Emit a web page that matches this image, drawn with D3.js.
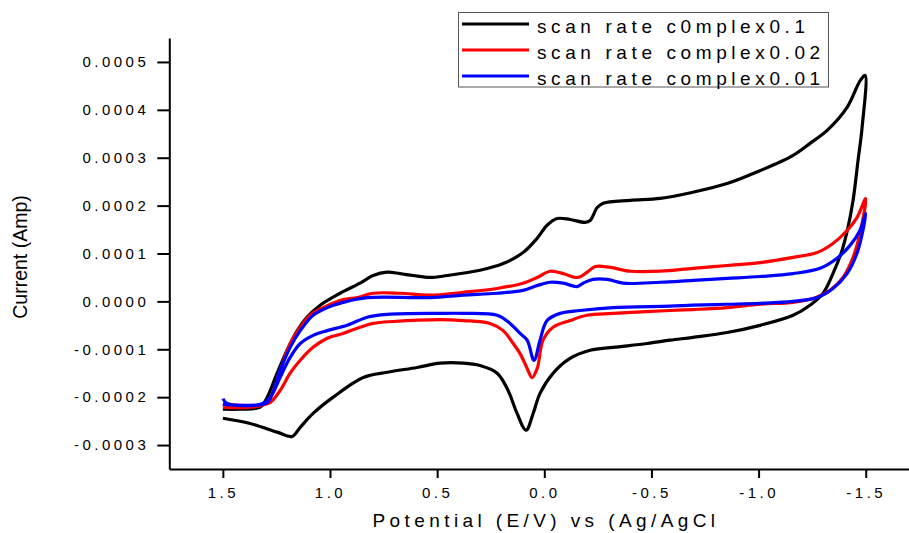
<!DOCTYPE html>
<html>
<head>
<meta charset="utf-8">
<script src="https://cdn.jsdelivr.net/npm/d3@7"></script>
<style>
  body { margin: 0; background: #fff; }
  svg { display: block; font-family: "Liberation Sans", Arial, sans-serif; }
</style>
</head>
<body>
<div id="chart"></div>
<script>
var width = 909;
var height = 533;

// currents are in units of 1e-4 A
var unit = 1e-4;

// scan rate 0.1 (black): forward branch then return branch
var potential01 = [1.50, 1.373, 1.247, 1.177, 1.139, 1.079, 0.985, 0.845, 0.733, 0.593, 0.486, 0.378, 0.300, 0.220, 0.169, 0.127, 0.085, 0.052, 0.020, -0.041, -0.120, -0.214, -0.321, -0.480, -0.587, -0.694, -0.853, -1.007, -1.161, -1.240, -1.301, -1.347, -1.389, -1.417, -1.441, -1.464, -1.483, -1.497,
  -1.474, -1.413, -1.320, -1.240, -1.161, -1.007, -0.853, -0.694, -0.541, -0.401, -0.275, -0.247, -0.214, -0.190, -0.120, -0.060, -0.013, 0.033, 0.099, 0.192, 0.300, 0.453, 0.533, 0.612, 0.673, 0.733, 0.799, 0.860, 0.953, 1.046, 1.107, 1.153, 1.200, 1.247, 1.293, 1.326, 1.419, 1.50];
var current01 = [-2.44, -2.55, -2.73, -2.82, -2.63, -2.34, -2.00, -1.59, -1.48, -1.38, -1.29, -1.29, -1.34, -1.50, -1.86, -2.34, -2.69, -2.34, -1.92, -1.50, -1.19, -1.02, -0.96, -0.88, -0.81, -0.75, -0.65, -0.50, -0.29, -0.08, 0.17, 0.58, 1.06, 1.54, 2.11, 2.94, 3.63, 4.72,
  4.61, 4.05, 3.57, 3.30, 3.05, 2.73, 2.46, 2.28, 2.15, 2.11, 2.05, 1.96, 1.69, 1.65, 1.71, 1.73, 1.59, 1.32, 1.02, 0.79, 0.65, 0.54, 0.50, 0.54, 0.58, 0.61, 0.54, 0.38, 0.17, -0.08, -0.33, -0.61, -1.02, -1.50, -2.00, -2.21, -2.25, -2.25];

// scan rate 0.02 (red)
var potential002 = [1.50, 1.326, 1.279, 1.233, 1.186, 1.139, 1.079, 1.013, 0.939, 0.860, 0.799, 0.706, 0.486, 0.378, 0.253, 0.192, 0.145, 0.113, 0.080, 0.057, 0.033, 0.006, -0.041, -0.120, -0.199, -0.321, -0.587, -0.694, -0.853, -1.007, -1.161, -1.254, -1.333, -1.394, -1.441, -1.473, -1.50,
  -1.459, -1.413, -1.347, -1.273, -1.161, -1.007, -0.853, -0.694, -0.541, -0.401, -0.308, -0.238, -0.200, -0.158, -0.088, -0.027, 0.033, 0.099, 0.220, 0.379, 0.533, 0.673, 0.799, 0.873, 0.953, 1.032, 1.093, 1.139, 1.186, 1.233, 1.293, 1.373, 1.50];
var current002 = [-2.15, -2.17, -2.11, -1.86, -1.50, -1.23, -0.96, -0.77, -0.67, -0.54, -0.46, -0.42, -0.38, -0.40, -0.46, -0.61, -0.88, -1.09, -1.40, -1.59, -1.40, -0.81, -0.54, -0.40, -0.29, -0.25, -0.19, -0.17, -0.13, -0.06, -0.02, 0.06, 0.23, 0.50, 0.92, 1.42, 2.15,
  1.75, 1.48, 1.21, 1.02, 0.92, 0.81, 0.75, 0.69, 0.63, 0.63, 0.71, 0.73, 0.61, 0.50, 0.58, 0.63, 0.50, 0.38, 0.27, 0.19, 0.13, 0.17, 0.17, 0.08, 0.02, -0.13, -0.29, -0.54, -0.88, -1.44, -2.11, -2.21, -2.21];

// scan rate 0.01 (blue)
var potential001 = [1.50, 1.48, 1.326, 1.279, 1.233, 1.186, 1.139, 1.079, 1.013, 0.920, 0.827, 0.733, 0.486, 0.378, 0.220, 0.160, 0.113, 0.080, 0.048, 0.020, -0.013, -0.074, -0.167, -0.321, -0.587, -0.694, -0.853, -1.007, -1.161, -1.273, -1.347, -1.413, -1.459, -1.487, -1.50,
  -1.473, -1.427, -1.366, -1.287, -1.161, -1.007, -0.853, -0.694, -0.541, -0.368, -0.293, -0.228, -0.181, -0.153, -0.088, -0.027, 0.033, 0.099, 0.220, 0.379, 0.533, 0.827, 0.939, 1.013, 1.079, 1.139, 1.186, 1.233, 1.293, 1.373, 1.50];
var current001 = [-2.03, -2.13, -2.15, -2.00, -1.59, -1.17, -0.88, -0.71, -0.61, -0.50, -0.33, -0.27, -0.25, -0.25, -0.29, -0.46, -0.67, -0.81, -1.23, -0.81, -0.40, -0.25, -0.19, -0.13, -0.10, -0.08, -0.06, -0.04, 0.00, 0.08, 0.27, 0.58, 1.00, 1.48, 1.84,
  1.48, 1.17, 0.90, 0.69, 0.58, 0.52, 0.48, 0.44, 0.40, 0.38, 0.46, 0.46, 0.38, 0.31, 0.38, 0.40, 0.33, 0.23, 0.17, 0.13, 0.08, 0.08, -0.02, -0.13, -0.29, -0.61, -0.96, -1.44, -2.11, -2.17, -2.15];

var seriesNames = ["scan rate c0mplex0.1", "scan rate complex0.02", "scan rate complex0.01"];
var seriesColors = ["#000000", "#ff0000", "#0000ff"];

var xTicks = [1.5, 1.0, 0.5, 0.0, -0.5, -1.0, -1.5];
var xMinorTicks = [1.75, 1.25, 0.75, 0.25, -0.25, -0.75, -1.25, -1.75];
var yTicks = [-0.0003, -0.0002, -0.0001, 0.0, 0.0001, 0.0002, 0.0003, 0.0004, 0.0005];
var yMinorTicks = [-0.00035, -0.00025, -0.00015, -0.00005, 0.00005, 0.00015, 0.00025, 0.00035, 0.00045, 0.00055];

var x = d3.scaleLinear().domain([1.75, -1.75]).range([169.3, 919.3]);
var y = d3.scaleLinear().domain([-0.00035, 0.00055]).range([469, 38]);

var svg = d3.select("#chart").append("svg")
    .attr("width", width)
    .attr("height", height);

function zip(vs, is) {
  return vs.map(function(v, k) { return [v, is[k] * unit]; });
}
var series = [zip(potential01, current01), zip(potential002, current002), zip(potential001, current001)];

var line = d3.line()
    .x(function(d) { return x(d[0]); })
    .y(function(d) { return y(d[1]); })
    .curve(d3.curveCatmullRom.alpha(0.5));

svg.selectAll("path.cv")
    .data(series)
  .enter().append("path")
    .attr("class", "cv")
    .attr("d", line)
    .attr("fill", "none")
    .attr("stroke", function(d, k) { return seriesColors[k]; })
    .attr("stroke-width", 3.2)
    .attr("stroke-linejoin", "round");

// x axis
var xAxis = svg.append("g").attr("transform", "translate(0," + y.range()[0] + ")");
xAxis.call(d3.axisBottom(x).tickValues(xMinorTicks).tickSize(5).tickFormat(""));
xAxis.call(d3.axisBottom(x).tickValues(xTicks).tickSize(9).tickSizeOuter(0)
    .tickFormat(function(d) { return d.toFixed(1); }));
xAxis.selectAll("path, line").attr("stroke", "#000").attr("stroke-width", 2);
xAxis.selectAll("text")
    .attr("y", 18)
    .attr("dy", "0.71em")
    .attr("fill", "#000")
    .style("font-size", "15px")
    .style("letter-spacing", "3.5px")
    .style("font-family", "'Liberation Sans', Arial, sans-serif");

// y axis
var yAxis = svg.append("g").attr("transform", "translate(" + x.range()[0] + ",0)");
yAxis.call(d3.axisLeft(y).tickValues(yMinorTicks).tickSize(6).tickFormat(""));
yAxis.call(d3.axisLeft(y).tickValues(yTicks).tickSize(12).tickSizeOuter(0)
    .tickFormat(function(d) { return d.toFixed(4); }));
yAxis.selectAll("path, line").attr("stroke", "#000").attr("stroke-width", 2);
yAxis.selectAll("text")
    .attr("x", -20)
    .attr("fill", "#000")
    .style("font-size", "15px")
    .style("letter-spacing", "3.5px")
    .style("font-family", "'Liberation Sans', Arial, sans-serif");

// axis titles
svg.append("text")
    .attr("x", 546)
    .attr("y", 527)
    .attr("text-anchor", "middle")
    .style("font-size", "19px")
    .style("letter-spacing", "4.4px")
    .text("Potential (E/V) vs (Ag/AgCl");

svg.append("text")
    .attr("transform", "translate(27,257) rotate(-90)")
    .attr("text-anchor", "middle")
    .style("font-size", "19.5px")
    .text("Current (Amp)");

// legend
var legend = svg.append("g");
legend.append("rect")
    .attr("x", 458.5)
    .attr("y", 12.5)
    .attr("width", 370)
    .attr("height", 74.5)
    .attr("fill", "#fff")
    .attr("stroke", "#555")
    .attr("stroke-width", 1);

var rows = legend.selectAll("g.row")
    .data(seriesNames)
  .enter().append("g")
    .attr("class", "row")
    .attr("transform", function(d, k) { return "translate(0," + (24 + k * 26) + ")"; });

rows.append("line")
    .attr("x1", 462)
    .attr("x2", 529)
    .attr("stroke", function(d, k) { return seriesColors[k]; })
    .attr("stroke-width", 3.2);

rows.append("text")
    .attr("x", 537)
    .attr("y", 9)
    .style("font-size", "19px")
    .style("letter-spacing", "4.6px")
    .text(function(d) { return d; });
</script>
</body>
</html>
